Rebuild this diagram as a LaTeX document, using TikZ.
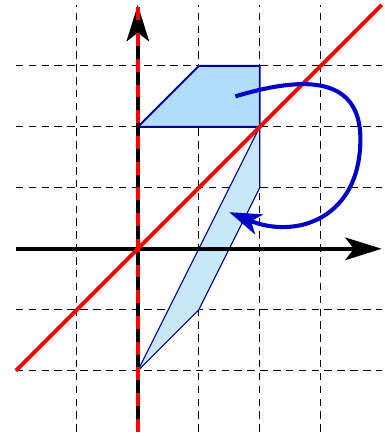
\documentclass[tikz,border=0pt]{standalone}
\usetikzlibrary{arrows.meta}

\definecolor{quadfill}{RGB}{176,222,250}
\definecolor{imagefill}{RGB}{200,232,250}
\definecolor{quadedge}{RGB}{0,0,160}
\definecolor{turnblue}{RGB}{0,0,204}

\begin{document}
\begin{tikzpicture}[
    gridline/.style={dash pattern=on 3.5pt off 2.5pt, line width=0.5pt},
    axis/.style={line width=1.8pt, -{Stealth[length=17pt, width=10.5pt, inset=4pt]}},
    mirror/.style={red, line width=1.8pt},
    quad/.style={fill=quadfill, draw=quadedge, line width=0.9pt, line join=round},
    image/.style={fill=imagefill, draw=quadedge, line width=0.5pt, line join=round},
    turn/.style={turnblue, line width=1.9pt, -{Stealth[length=15pt, width=10pt, inset=4pt]}}
  ]
  \useasboundingbox (-2.26,-3.07) rectangle (4.05,4.08);
  \foreach \x in {-1,1,2,3}
    \draw[gridline] (\x,-3) -- (\x,4);
  \foreach \y in {-2,-1,1,2,3}
    \draw[gridline] (-2,\y) -- (4,\y);
  \filldraw[quad] (0,2) -- (1,3) -- (2,3) -- (2,2) -- cycle;
  \filldraw[image] (2,2) -- (2,1) -- (1,-1) -- (0,-2) -- cycle;
  \draw[axis] (-2,0) -- (4,0);
  \draw[axis] (0,-3) -- (0,4);
  \draw[mirror, dash pattern=on 6pt off 6pt] (0,-3) -- (0,4.05);
  \draw[mirror] (-2,-2) -- (4,4);
  \coordinate (turnstart) at (1.6,2.5);
  \coordinate (turnend) at (1.5,0.6);
  \draw[turn] (turnstart) .. controls (2.6,2.8) and (3.65,2.9) .. (3.65,1.8)
    .. controls (3.65,0.5) and (2.6,0.15) .. (turnend);
\end{tikzpicture}
\end{document}
